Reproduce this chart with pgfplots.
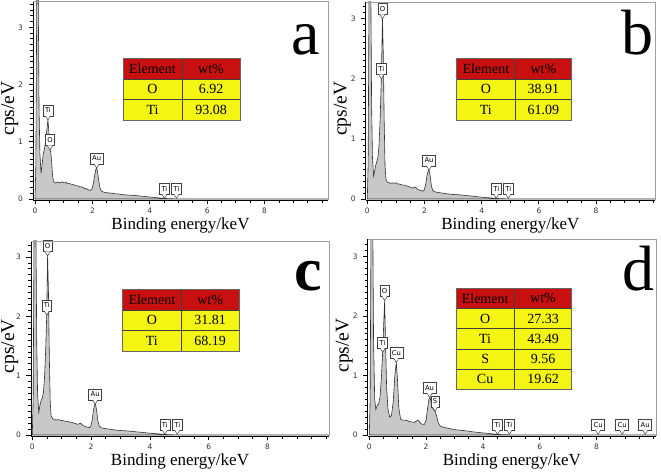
\documentclass[border=0pt]{standalone}
\usepackage{fontspec}
\setmainfont{Liberation Serif}
\newfontfamily\ticksf{DejaVu Sans}
\usepackage{pgfplots}
\pgfplotsset{compat=1.18}
\definecolor{specfill}{RGB}{200,200,200}
\definecolor{specline}{RGB}{50,50,50}
\definecolor{thdr}{RGB}{200,16,16}
\definecolor{tyel}{RGB}{245,245,20}
\definecolor{framegray}{RGB}{160,160,160}

\pgfplotsset{
  eds/.style={
    scale only axis, anchor=south west,
    axis x line*=bottom, axis y line*=left,
    axis line style={black, line width=0.9pt, -},
    every outer x axis line/.append style={-},
    every outer y axis line/.append style={-},
    tick align=outside,
    xtick={0,2,4,6,8},
    minor xtick={0.5,1,1.5,2.5,3,3.5,4.5,5,5.5,6.5,7,7.5,8.5,9,9.5,10},
    ytick={0,1,2,3},
    minor ytick={0,0.1,...,3.45},
    major tick length=4.5pt, minor tick length=3pt,
    tick style={black, line width=0.8pt},
    ticklabel style={font=\ticksf\fontsize{7.5}{8}\selectfont, text=black!80},
    yticklabel style={xshift=-2pt},
    /pgf/number format/assume math mode=true,
    xlabel={Binding energy/keV}, ylabel={cps/eV},
    xlabel style={font=\fontsize{17}{18}\selectfont, at={(axis description cs:0.5,0)}, anchor=base, yshift=-30pt},
    ylabel style={font=\fontsize{19.5}{20}\selectfont},
    clip mode=individual,
  },
  spec/.style={specline, fill=specfill, line width=0.6pt},
}

% peak label: x, y, text
\newcommand{\pk}[3]{%
  \node[draw=black!75, fill=white, line width=0.5pt,
        font=\ticksf\fontsize{6.8}{7}\selectfont,
        inner xsep=2pt, inner ysep=0pt, minimum height=11pt, anchor=south]
        at ([yshift=4pt]axis cs:#1,#2) {#3};
  \fill[white] ([xshift=-2.4pt,yshift=4.4pt]axis cs:#1,#2) -- (axis cs:#1,#2) -- ([xshift=2.4pt,yshift=4.4pt]axis cs:#1,#2) -- cycle;
  \draw[black!75, line width=0.5pt] ([xshift=-2.4pt,yshift=4pt]axis cs:#1,#2) -- (axis cs:#1,#2) -- ([xshift=2.4pt,yshift=4pt]axis cs:#1,#2);
}
\newcommand{\frameit}{%
  \draw[framegray, line width=0.6pt] (rel axis cs:0,1) -- (rel axis cs:1,1) -- (rel axis cs:1,0);
}

% table: x1, xdiv, x2, ytop (px from top), row height, rows list
\newcommand{\edstab}[6]{%
  \begin{scope}[shift={(0,473)}, yscale=-1, every node/.style={font=\fontsize{14}{15}\selectfont, inner sep=0pt}]
    \fill[thdr] (#1,#4) rectangle (#3,#4+#5);
    \node at ({(#1+#2)/2},#4+0.5*#5) {Element};
    \node at ({(#2+#3)/2},#4+0.5*#5) {wt\%};
    \foreach \el/\val [count=\i] in {#6} {
      \fill[tyel] (#1,{#4+\i*#5}) rectangle (#3,{#4+(\i+1)*#5});
      \draw[black!75, line width=0.7pt] (#1,{#4+\i*#5}) -- (#3,{#4+\i*#5});
      \node at ({(#1+#2)/2},{#4+(\i+0.5)*#5}) {\el};
      \node at ({(#2+#3)/2},{#4+(\i+0.5)*#5}) {\val};
      \xdef\lastrow{\i}
    }
    \draw[black!75, line width=0.7pt] (#2,#4) -- (#2,{#4+(\lastrow+1)*#5});
    \draw[black!60, line width=0.6pt] (#1,#4) rectangle (#3,{#4+(\lastrow+1)*#5});
  \end{scope}
}

\begin{document}
\begin{tikzpicture}[x=1pt,y=1pt]
\useasboundingbox (0,0) rectangle (661,473);

% ---------------- panel a ----------------
\begin{axis}[eds, at={(33pt,273pt)}, width=295pt, height=199pt,
  xmin=-0.07, xmax=10.21, ymin=-0.017, ymax=3.46,
  ylabel style={at={(axis description cs:-0.064,0.46)}, anchor=base}]
\addplot[spec] coordinates {
(0,0) (0.03,0.6) (0.05,2.5) (0.07,4.5) (0.10,4.5) (0.12,3.0) (0.14,1.6) (0.17,0.8)
(0.21,0.45) (0.25,0.62) (0.29,0.8) (0.33,0.88) (0.37,1.0) (0.41,1.2) (0.45,1.38)
(0.48,1.2) (0.52,0.87) (0.55,0.82) (0.58,0.65) (0.61,0.42) (0.64,0.32) (0.67,0.29)
(0.72,0.28) (0.78,0.30) (0.84,0.28) (0.90,0.29) (0.96,0.30) (1.02,0.28) (1.08,0.29)
(1.14,0.27) (1.20,0.27) (1.26,0.26) (1.32,0.25) (1.38,0.245) (1.44,0.23) (1.50,0.23)
(1.56,0.21) (1.62,0.215) (1.68,0.20) (1.74,0.18) (1.80,0.18) (1.86,0.16) (1.92,0.15)
(1.98,0.17) (2.03,0.26) (2.08,0.42) (2.12,0.52) (2.15,0.54) (2.18,0.48) (2.22,0.32)
(2.27,0.18) (2.32,0.14) (2.40,0.12) (2.50,0.11) (2.60,0.105) (2.70,0.10) (2.80,0.09)
(2.90,0.09) (3.00,0.08) (3.20,0.07) (3.40,0.065) (3.60,0.055) (3.80,0.045) (4.00,0.035)
(4.20,0.025) (4.40,0.015) (4.60,0.008) (4.80,0.004) (5.00,0.002) (5.50,0) (10.3,0)
} \closedcycle;
\pk{0.45}{1.38}{Ti}
\pk{0.52}{0.86}{O}
\pk{2.15}{0.54}{Au}
\pk{4.51}{0.01}{Ti}
\pk{4.93}{0.01}{Ti}
\frameit
\end{axis}

% ---------------- panel b ----------------
\begin{axis}[eds, at={(365.7pt,273pt)}, width=289.3pt, height=198pt,
  xmin=-0.056, xmax=10.06, ymin=-0.017, ymax=3.28,
  ylabel style={at={(axis description cs:-0.066,0.46)}, anchor=base}]
\addplot[spec] coordinates {
(0,0) (0.03,0.6) (0.05,2.5) (0.07,4.5) (0.11,4.5) (0.13,3.0) (0.15,1.6) (0.18,0.7)
(0.22,0.38) (0.25,0.45) (0.29,0.55) (0.33,0.62) (0.37,0.68) (0.41,0.9) (0.45,1.35)
(0.49,2.0) (0.53,3.02) (0.56,2.4) (0.59,1.3) (0.62,0.55) (0.65,0.33) (0.70,0.28)
(0.76,0.27) (0.82,0.26) (0.88,0.27) (0.94,0.26) (1.00,0.27) (1.06,0.25) (1.12,0.25)
(1.18,0.24) (1.24,0.23) (1.30,0.23) (1.36,0.22) (1.42,0.21) (1.48,0.20) (1.54,0.19)
(1.60,0.18) (1.66,0.20) (1.70,0.19) (1.76,0.16) (1.82,0.15) (1.88,0.14) (1.94,0.13)
(1.99,0.15) (2.04,0.24) (2.09,0.40) (2.13,0.47) (2.16,0.48) (2.20,0.38) (2.24,0.22)
(2.29,0.14) (2.36,0.12) (2.45,0.11) (2.60,0.10) (2.80,0.085) (3.00,0.075) (3.20,0.07)
(3.40,0.06) (3.60,0.05) (3.80,0.04) (4.00,0.03) (4.20,0.022) (4.40,0.014) (4.60,0.007)
(4.80,0.003) (5.20,0) (10.2,0)
} \closedcycle;
\pk{0.53}{3.0}{O}
\pk{0.49}{2.0}{Ti}
\pk{2.16}{0.48}{Au}
\pk{4.51}{0.01}{Ti}
\pk{4.93}{0.01}{Ti}
\frameit
\end{axis}

% ---------------- panel c ----------------
\begin{axis}[eds, at={(31pt,37pt)}, width=298pt, height=195pt,
  xmin=-0.044, xmax=10.09, ymin=-0.017, ymax=3.27,
  ylabel style={at={(axis description cs:-0.057,0.46)}, anchor=base}]
\addplot[spec] coordinates {
(0,0) (0.03,0.6) (0.05,2.5) (0.07,4.5) (0.11,4.5) (0.13,3.0) (0.15,1.6) (0.18,0.7)
(0.22,0.38) (0.26,0.50) (0.30,0.58) (0.34,0.62) (0.38,0.72) (0.42,1.0) (0.46,1.5)
(0.49,2.02) (0.52,3.03) (0.55,2.4) (0.58,1.3) (0.61,0.55) (0.64,0.32) (0.70,0.27)
(0.76,0.26) (0.82,0.25) (0.88,0.26) (0.94,0.25) (1.00,0.245) (1.06,0.24) (1.12,0.23)
(1.18,0.23) (1.24,0.22) (1.30,0.215) (1.36,0.21) (1.42,0.20) (1.48,0.19) (1.54,0.18)
(1.60,0.19) (1.64,0.20) (1.70,0.17) (1.76,0.15) (1.82,0.14) (1.88,0.13) (1.94,0.12)
(1.99,0.15) (2.04,0.26) (2.08,0.42) (2.12,0.51) (2.15,0.52) (2.19,0.40) (2.23,0.24)
(2.28,0.15) (2.35,0.12) (2.45,0.11) (2.60,0.10) (2.80,0.085) (3.00,0.075) (3.20,0.07)
(3.40,0.06) (3.60,0.05) (3.80,0.04) (4.00,0.03) (4.20,0.022) (4.40,0.014) (4.60,0.007)
(4.80,0.003) (5.20,0) (10.2,0)
} \closedcycle;
\pk{0.52}{3.02}{O}
\pk{0.49}{2.02}{Ti}
\pk{2.14}{0.52}{Au}
\pk{4.51}{0.01}{Ti}
\pk{4.93}{0.01}{Ti}
\frameit
\end{axis}

% ---------------- panel d ----------------
\begin{axis}[eds, at={(367.7pt,37pt)}, width=288.3pt, height=196.7pt,
  xmin=-0.056, xmax=10.09, ymin=-0.017, ymax=3.29,
  ylabel style={at={(axis description cs:-0.066,0.46)}, anchor=base}]
\addplot[spec] coordinates {
(0,0) (0.03,0.6) (0.05,2.5) (0.07,4.5) (0.11,4.5) (0.13,3.0) (0.15,1.6) (0.19,0.6)
(0.23,0.43) (0.28,0.50) (0.33,0.52) (0.38,0.65) (0.43,1.0) (0.47,1.39) (0.51,1.9)
(0.54,2.26) (0.57,1.6) (0.61,0.8) (0.66,0.42) (0.72,0.30) (0.78,0.33) (0.84,0.55)
(0.90,1.0) (0.95,1.22) (0.99,0.95) (1.04,0.45) (1.10,0.27) (1.16,0.25) (1.22,0.25)
(1.28,0.245) (1.34,0.24) (1.40,0.23) (1.46,0.22) (1.52,0.22) (1.58,0.21) (1.64,0.23)
(1.70,0.25) (1.76,0.23) (1.82,0.19) (1.88,0.18) (1.94,0.18) (2.00,0.25) (2.05,0.45)
(2.10,0.60) (2.14,0.63) (2.19,0.52) (2.25,0.43) (2.31,0.40) (2.37,0.32) (2.43,0.20)
(2.50,0.15) (2.60,0.13) (2.75,0.115) (3.00,0.09) (3.20,0.08) (3.40,0.07) (3.60,0.055)
(3.80,0.045) (4.00,0.035) (4.20,0.025) (4.40,0.015) (4.60,0.008) (4.80,0.004)
(5.20,0) (10.2,0)
} \closedcycle;
\pk{0.54}{2.26}{O}
\pk{0.47}{1.39}{Ti}
\pk{0.95}{1.22}{Cu}
\pk{2.12}{0.63}{Au}
\pk{2.31}{0.40}{S}
\pk{4.51}{0.01}{Ti}
\pk{4.93}{0.01}{Ti}
\pk{8.05}{0.01}{Cu}
\pk{8.90}{0.01}{Cu}
\pk{9.71}{0.01}{Au}
\frameit
\end{axis}

% ---------------- tables ----------------
\edstab{123}{182}{240}{58.3}{20.6}{O/6.92,Ti/93.08}
\edstab{456.7}{515}{571.7}{58.3}{20.6}{O/38.91,Ti/61.09}
\edstab{122.7}{181}{239.3}{289.3}{20.6}{O/31.81,Ti/68.19}
\edstab{456}{514.3}{571.7}{288.3}{20.2}{O/27.33,Ti/43.49,S/9.56,Cu/19.62}

% ---------------- panel letters ----------------
\node[anchor=base, font=\fontsize{64}{64}\selectfont, inner sep=0pt] at (306,418) {a};
\node[anchor=base, font=\fontsize{64}{64}\selectfont, inner sep=0pt] at (637.5,418) {b};
\node[anchor=base, font=\bfseries\fontsize{62}{62}\selectfont, inner sep=0pt] at (308,182) {c};
\node[anchor=base, font=\fontsize{64}{64}\selectfont, inner sep=0pt] at (638.3,182) {d};
\end{tikzpicture}
\end{document}
